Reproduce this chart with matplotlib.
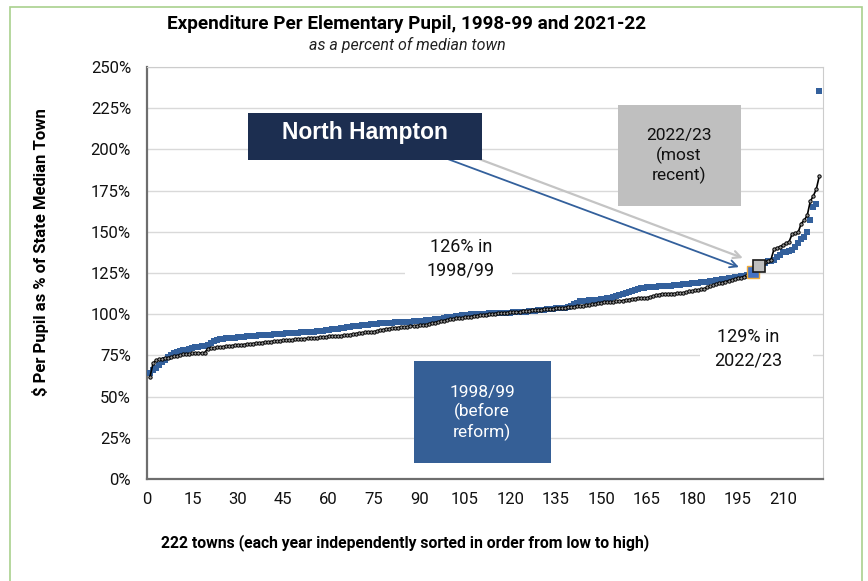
import matplotlib
matplotlib.use("Agg")
import matplotlib.pyplot as plt
from matplotlib.patches import Rectangle
from matplotlib.ticker import FuncFormatter

# spending per pupil as % of state median town, each year sorted low -> high
spend_9899 = [
    64.5, 66.0, 67.5, 69.0, 71.0, 72.5, 74.0, 75.5, 76.5, 77.0, 77.5, 78.0, 78.5, 79.0, 79.3,
    79.8, 80.2, 80.6, 81.0, 81.5, 82.8, 84.0, 84.4, 84.8, 85.0, 85.3, 85.5, 85.7, 85.8, 86.0,
    86.1, 86.3, 86.5, 86.7, 86.9, 87.0, 87.1, 87.3, 87.4, 87.5, 87.6, 87.8, 87.9, 88.0, 88.2,
    88.3, 88.4, 88.5, 88.6, 88.8, 88.9, 89.0, 89.2, 89.4, 89.5, 89.7, 89.9, 90.1, 90.4, 90.7,
    90.9, 91.1, 91.3, 91.4, 91.7, 92.0, 92.3, 92.6, 92.9, 93.1, 93.3, 93.5, 93.7, 93.9, 94.1,
    94.3, 94.5, 94.6, 94.7, 94.8, 94.9, 95.0, 95.1, 95.2, 95.3, 95.4, 95.5, 95.6, 95.7, 95.8,
    96.0, 96.2, 96.4, 96.6, 96.8, 97.0, 97.3, 97.6, 98.0, 98.3, 98.6, 98.9, 99.2, 99.4, 99.6,
    99.8, 99.9, 100.0, 100.1, 100.2, 100.3, 100.4, 100.5, 100.5, 100.6, 100.7, 100.8, 100.9, 101.0, 101.0,
    101.1, 101.2, 101.3, 101.5, 101.6, 101.8, 102.0, 102.2, 102.4, 102.6, 102.8, 103.0, 103.2, 103.4, 103.6,
    103.7, 103.8, 104.0, 104.3, 105.0, 106.0, 107.0, 107.8, 108.0, 108.2, 108.4, 108.5, 108.7, 108.8, 109.0,
    109.3, 109.6, 110.0, 110.5, 111.0, 111.6, 112.2, 112.8, 113.5, 114.2, 114.8, 115.3, 115.7, 116.0, 116.3,
    116.5, 116.7, 116.8, 116.9, 117.0, 117.1, 117.2, 117.3, 117.5, 117.7, 117.9, 118.1, 118.3, 118.5, 118.7,
    118.9, 119.1, 119.3, 119.5, 119.7, 119.9, 120.2, 120.5, 120.8, 121.1, 121.4, 121.7, 122.0, 122.3, 122.6,
    122.9, 123.3, 123.8, 124.5, 125.8, 128.0, 129.5, 130.5, 131.3, 132.0, 132.5, 133.0, 134.5, 136.0, 137.5,
    138.0, 138.5, 139.0, 141.0, 143.0, 145.5, 147.0, 150.0, 157.0, 165.0, 167.0, 235.5,
]
spend_2223 = [
    62.0, 70.3, 72.0, 72.6, 73.0, 73.3, 73.6, 74.0, 74.4, 74.8, 75.2, 75.6, 75.9, 76.1, 76.2,
    76.3, 76.4, 76.5, 76.6, 79.0, 79.3, 79.5, 79.8, 80.0, 80.3, 80.5, 80.7, 80.9, 81.1, 81.3,
    81.4, 81.6, 81.8, 82.0, 82.2, 82.4, 82.6, 82.8, 83.0, 83.2, 83.4, 83.6, 83.8, 84.0, 84.1,
    84.2, 84.3, 84.5, 84.7, 84.9, 85.0, 85.2, 85.3, 85.4, 85.5, 85.7, 85.9, 86.1, 86.3, 86.5,
    86.6, 86.7, 86.8, 86.9, 87.1, 87.3, 87.6, 87.9, 88.2, 88.5, 88.7, 88.9, 89.1, 89.3, 89.4,
    89.9, 90.4, 90.7, 91.0, 91.3, 91.5, 91.7, 91.9, 92.1, 92.3, 92.5, 92.7, 92.9, 93.1, 93.3,
    93.4, 93.7, 94.1, 94.5, 94.9, 95.3, 95.7, 96.1, 96.5, 96.8, 97.1, 97.4, 97.6, 97.8, 98.0,
    98.3, 98.6, 98.9, 99.2, 99.4, 99.6, 99.8, 100.0, 100.2, 100.4, 100.6, 100.8, 100.9, 101.0, 101.2,
    101.3, 101.4, 101.6, 101.8, 102.0, 102.1, 102.3, 102.5, 102.7, 102.8, 103.0, 103.1, 103.2, 103.4, 103.6,
    103.7, 103.8, 104.0, 104.2, 104.4, 104.6, 104.8, 105.0, 105.2, 105.5, 105.8, 106.1, 106.4, 106.7, 107.0,
    107.2, 107.4, 107.5, 107.6, 107.8, 108.0, 108.3, 108.6, 108.9, 109.2, 109.5, 109.7, 109.8, 109.9, 110.0,
    110.4, 110.9, 111.4, 111.9, 112.3, 112.4, 112.4, 112.5, 112.5, 112.6, 112.7, 113.0, 113.4, 113.8, 114.2,
    114.5, 114.7, 115.0, 115.5, 116.3, 117.0, 117.6, 118.2, 118.7, 119.2, 119.7, 120.2, 120.7, 121.2, 121.7,
    122.2, 122.8, 123.5, 124.5, 126.0, 127.5, 129.0, 130.5, 131.5, 132.3, 133.0, 139.3, 140.0, 141.0, 141.8,
    143.0, 144.0, 148.6, 149.0, 149.7, 155.0, 157.0, 160.0, 168.5, 171.7, 176.0, 184.0,
]
ranks = list(range(1, len(spend_9899) + 1))

# North Hampton's rank in each year
nh_rank_9899 = 200
nh_rank_2223 = 202

x_ticks = list(range(0, 211, 15))
y_ticks = list(range(0, 251, 25))

W, H = 868, 581


def fx(x):
    return x / W


def fy(y):
    return 1 - y / H


plt.rcParams['font.family'] = ['Roboto', 'DejaVu Sans']

fig = plt.figure(figsize=(W / 100, H / 100), dpi=100)

# light green frame around the whole chart
fig.add_artist(Rectangle((fx(10), fy(620)), fx(862) - fx(10), fy(7) - fy(620),
                         transform=fig.transFigure, fill=False, ec='#a9d18e', lw=1.2))

ax = fig.add_axes([fx(147), fy(479), (823 - 147) / W, (479 - 67) / H])

blue = '#33609c'
ax.plot(ranks, spend_9899, 's', color=blue, ms=3.8, mew=0, zorder=3)
ax.plot(ranks, spend_2223, '-o', color='black', lw=1.2, ms=2.4,
        mfc='#9a9a9a', mec='black', mew=0.7, zorder=4)

# North Hampton in both years
ax.plot(nh_rank_9899, spend_9899[nh_rank_9899 - 1], 's', ms=9,
        mfc='#4472c4', mec='#f0ad3c', mew=1.0, zorder=6)
ax.plot(nh_rank_2223, spend_2223[nh_rank_2223 - 1], 's', ms=8.5,
        mfc='#bfbfbf', mec='#1a1a1a', mew=1.2, zorder=7)

ax.set_xlim(0, 223.2)
ax.set_ylim(0, 250)
ax.set_xticks(x_ticks)
ax.set_yticks(y_ticks)
ax.yaxis.set_major_formatter(FuncFormatter(lambda v, p: f'{v:.0f}%'))
ax.tick_params(axis='both', length=0, labelsize=12, colors='#111111')
ax.tick_params(axis='y', pad=11.5)
ax.tick_params(axis='x', pad=9)
ax.grid(axis='y', color='#d9d9d9', lw=1.0)
ax.set_axisbelow(True)
for s in ['top', 'right']:
    ax.spines[s].set_color('#cccccc')
for s in ['left', 'bottom']:
    ax.spines[s].set_color('#6e6e6e')
    ax.spines[s].set_linewidth(1.6)

# arrows from the label box to the two points
ax.annotate('', xy=(196.3, 128), xytext=(fx(445), fy(158)),
            textcoords='figure fraction',
            arrowprops=dict(arrowstyle='->', color=blue, lw=1.3, mutation_scale=13))
ax.annotate('', xy=(197.6, 133.5), xytext=(fx(455), fy(150)),
            textcoords='figure fraction',
            arrowprops=dict(arrowstyle='->', color='#c4c4c4', lw=1.6, mutation_scale=13))

# boxes
fig.add_artist(Rectangle((fx(248), fy(160)), (482 - 248) / W, (160 - 113) / H,
                         transform=fig.transFigure, fc='#1c2e50', ec='none'))
fig.text(fx(365), fy(133), 'North Hampton', color='white', fontsize=16.5,
         fontweight='bold', family=['Liberation Sans', 'DejaVu Sans'],
         ha='center', va='center')

fig.add_artist(Rectangle((fx(414), fy(463)), (551 - 414) / W, (463 - 361) / H,
                         transform=fig.transFigure, fc='#355f96', ec='none'))
fig.text(fx(482), fy(413), '1998/99\n(before\nreform)', color='white', fontsize=12.5,
         ha='center', va='center', linespacing=1.25)

fig.add_artist(Rectangle((fx(618), fy(206)), (741 - 618) / W, (206 - 105) / H,
                         transform=fig.transFigure, fc='#bfbfbf', ec='none'))
fig.text(fx(679), fy(156), '2022/23\n(most\nrecent)', color='#111111', fontsize=12.5,
         ha='center', va='center', linespacing=1.25)

# callout texts on white backgrounds
fig.add_artist(Rectangle((fx(405), fy(290)), (512 - 405) / W, (290 - 238) / H,
                         transform=fig.transFigure, fc='white', ec='none'))
fig.text(fx(461), fy(259), '126% in\n1998/99', color='#111111', fontsize=13,
         ha='center', va='center', linespacing=1.4)
fig.add_artist(Rectangle((fx(700), fy(380)), (813 - 700) / W, (380 - 325) / H,
                         transform=fig.transFigure, fc='white', ec='none'))
fig.text(fx(748), fy(349), '129% in\n2022/23', color='#111111', fontsize=13,
         ha='center', va='center', linespacing=1.4)

# titles and axis labels
fig.text(fx(407), fy(24), 'Expenditure Per Elementary Pupil, 1998-99 and 2021-22',
         fontsize=13.6, fontweight='bold', ha='center', va='center')
fig.text(fx(407), fy(45), 'as a percent of median town', fontsize=11.5,
         style='italic', ha='center', va='center', color='#222222')
fig.text(fx(41), fy(252), '$ Per Pupil as % of State Median Town', fontsize=12,
         fontweight='bold', rotation=90, ha='center', va='center')
fig.text(fx(405), fy(543), '222 towns (each year independently sorted in order from low to high)',
         fontsize=11.3, fontweight='bold', ha='center', va='center')

fig.savefig('out.png', dpi=100)
